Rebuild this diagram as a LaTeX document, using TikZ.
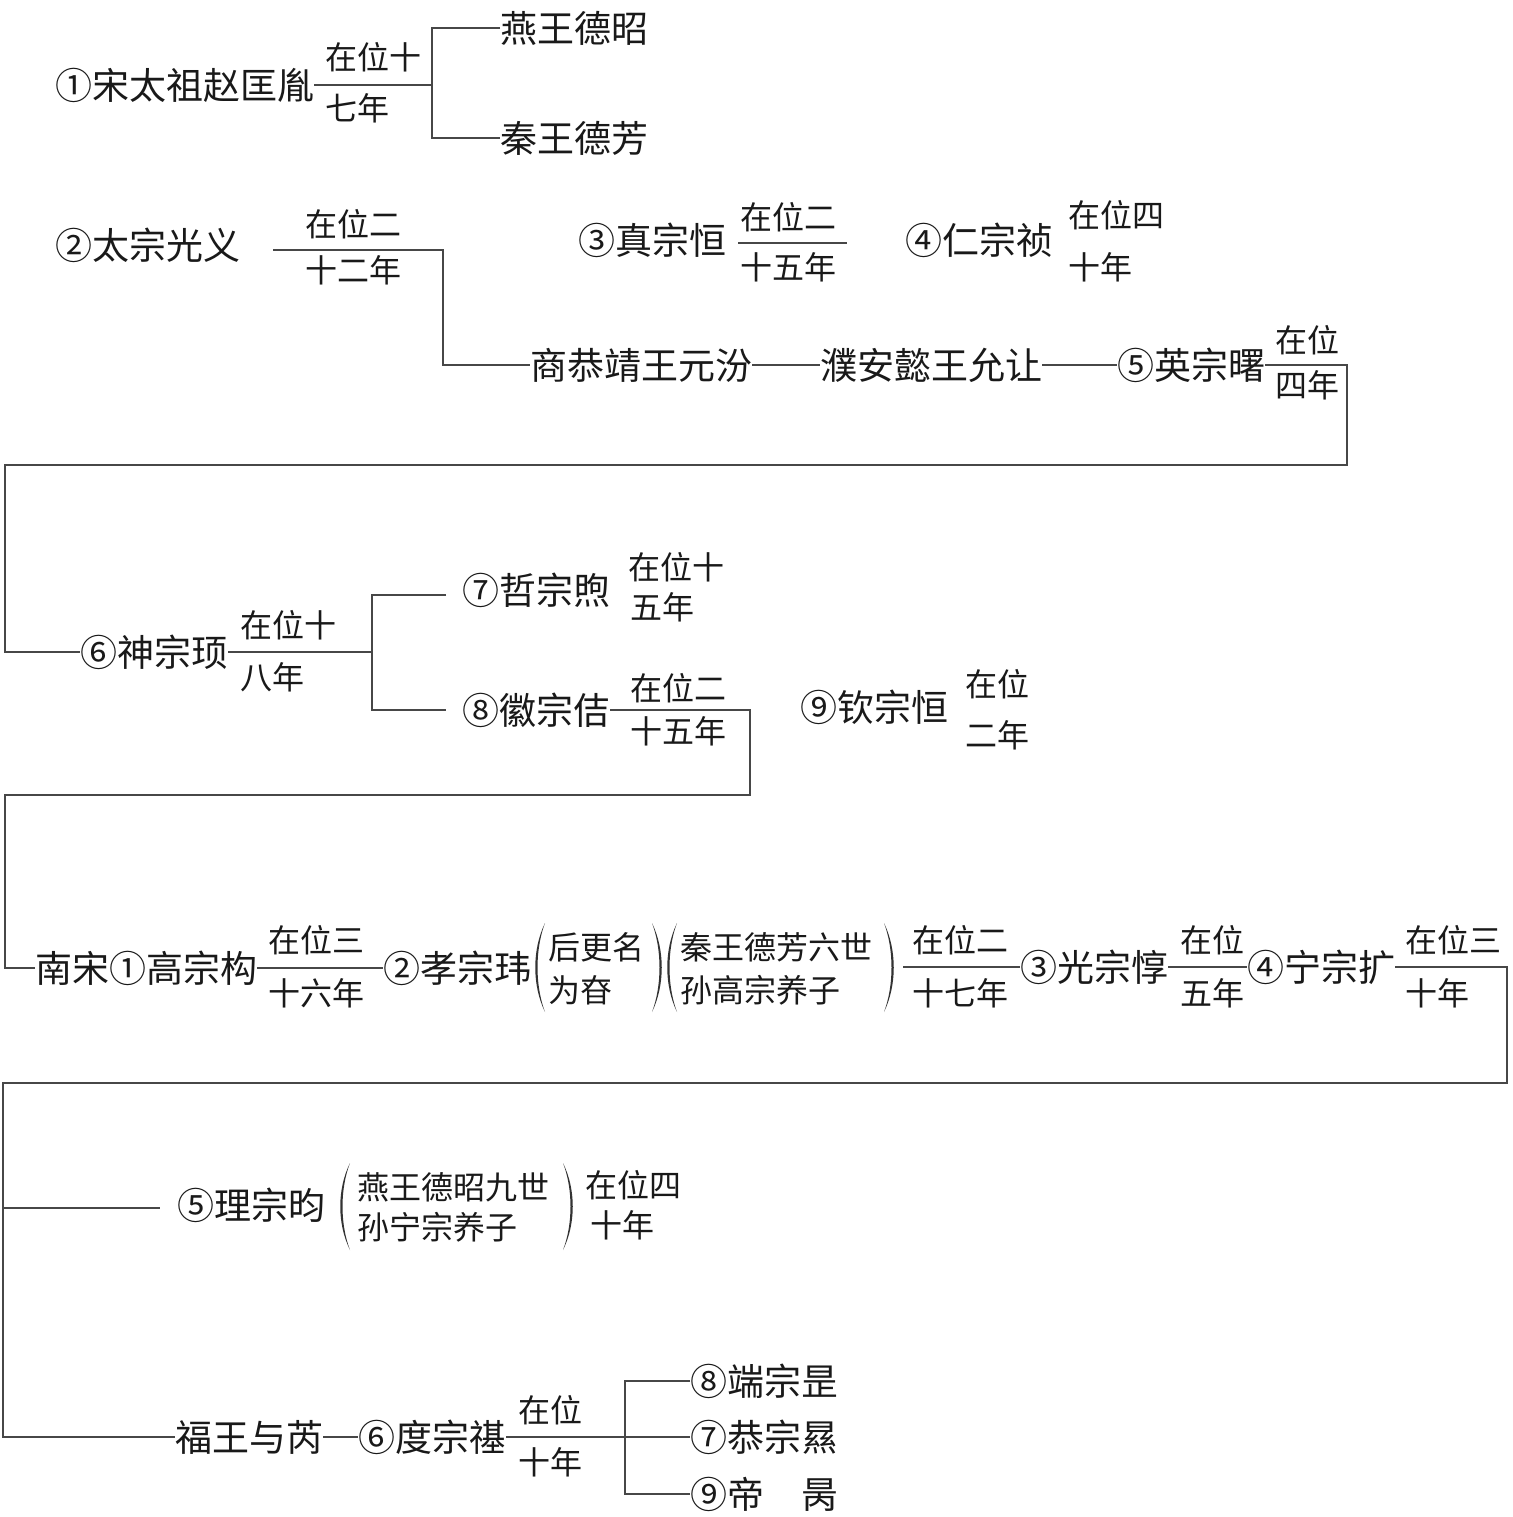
\documentclass[tikz,border=0pt]{standalone}
\usepackage{fontspec}
\setmainfont{Noto Sans CJK SC}
\newcommand\myparL[3]{\fill[pr] (#1,#2) .. controls ({#1-13},{#2+0.3*(#3-#2)}) and ({#1-13},{#2+0.7*(#3-#2)}) .. (#1,#3) .. controls ({#1-10},{#2+0.7*(#3-#2)}) and ({#1-10},{#2+0.3*(#3-#2)}) .. (#1,#2) -- cycle;}
\newcommand\myparR[3]{\fill[pr] (#1,#2) .. controls ({#1+13},{#2+0.3*(#3-#2)}) and ({#1+13},{#2+0.7*(#3-#2)}) .. (#1,#3) .. controls ({#1+10},{#2+0.7*(#3-#2)}) and ({#1+10},{#2+0.3*(#3-#2)}) .. (#1,#2) -- cycle;}
\tikzset{
 nm/.style={anchor=west, inner sep=0pt, font=\fontsize{37}{40}\selectfont, text=black!90},
 nt/.style={anchor=west, inner sep=0pt, font=\fontsize{32}{36}\selectfont, text=black!90},
 ln/.style={draw=black!72, line width=1.8pt},
 pr/.style={fill=black!80},
}
\begin{document}
\begin{tikzpicture}[x=1pt,y=-1pt]
\useasboundingbox (0,0) rectangle (1512,1517);
% ---- row A
\node[nm] (a1) at (55,85) {①宋太祖赵匡胤};
\coordinate (ab) at (432,85);
\node[nm] (a2) at (500,28) {燕王德昭};
\node[nm] (a3) at (500,138) {秦王德芳};
\node[nt] (a1t) at (325,57) {在位十};
\node[nt] (a1b) at (325,108) {七年};
\draw[ln] (a1.east) -- (ab);
\draw[ln] (a2.west) -| (ab) |- (a3.west);
% ---- row B
\node[nm] (b1) at (55,245) {②太宗光义};
\coordinate (bl) at (273,250);
\coordinate (bc) at (443,250);
\node[nt] (b1t) at (305,224) {在位二};
\node[nt] (b1b) at (305,270) {十二年};
\node[nm] (b2) at (530,365) {商恭靖王元汾};
\node[nm] (b3) at (820,365) {濮安懿王允让};
\node[nm] (b4) at (1117,365) {⑤英宗曙};
\coordinate (br) at (1347,365);
\coordinate (bt) at (5,465);
\node[nt] (b4t) at (1275,340) {在位};
\node[nt] (b4b) at (1275,385) {四年};
\node[nm] (b5) at (578,240) {③真宗恒};
\coordinate (b5l) at (738,243);
\coordinate (b5r) at (847,243);
\node[nt] (b5t) at (740,217) {在位二};
\node[nt] (b5b) at (740,267) {十五年};
\node[nm] (b6) at (905,240) {④仁宗祯};
\node[nt] (b6t) at (1068,215) {在位四};
\node[nt] (b6b) at (1068,267) {十年};
% ---- row C
\node[nm] (c1) at (80,652) {⑥神宗顼};
\coordinate (cb) at (372,652);
\node[nt] (c1t) at (240,625) {在位十};
\node[nt] (c1b) at (240,677) {八年};
\node[nm] (c2) at (462,590) {⑦哲宗煦};
\coordinate (c2l) at (446,595);
\node[nt] (c2t) at (628,567) {在位十};
\node[nt] (c2b) at (630,607) {五年};
\node[nm] (c3) at (462,710) {⑧徽宗佶};
\coordinate (c3l) at (446,710);
\coordinate (c3r) at (750,710);
\node[nt] (c3t) at (630,688) {在位二};
\node[nt] (c3b) at (630,731) {十五年};
\node[nm] (c4) at (800,707) {⑨钦宗恒};
\node[nt] (c4t) at (965,684) {在位};
\node[nt] (c4b) at (965,735) {二年};
\coordinate (ct) at (5,795);
% ---- row D
\node[nm] (d1) at (35,968) {南宋①高宗构};
\node[nt] (d1t) at (268,940) {在位三};
\node[nt] (d1b) at (268,993) {十六年};
\node[nm] (d2) at (383,968) {②孝宗玮};
\node[nt] (p1a) at (548,947) {后更名};
\node[nt] (p1b) at (548,990) {为昚};
\node[nt] (p2a) at (680,947) {秦王德芳六世};
\node[nt] (p2b) at (680,990) {孙高宗养子};
\coordinate (dl) at (903,967);
\node[nm] (d3) at (1020,967) {③光宗惇};
\node[nt] (d3t) at (912,940) {在位二};
\node[nt] (d3b) at (912,993) {十七年};
\node[nm] (d4) at (1247,967) {④宁宗扩};
\node[nt] (d4t) at (1180,940) {在位};
\node[nt] (d4b) at (1180,993) {五年};
\coordinate (dr) at (1507,967);
\node[nt] (d5t) at (1405,940) {在位三};
\node[nt] (d5b) at (1405,993) {十年};
\coordinate (dt) at (3,1083);
% ---- row E
\coordinate (ej) at (3,1208);
\coordinate (ee) at (160,1208);
\node[nm] (e1) at (177,1205) {⑤理宗昀};
\node[nt] (p3a) at (357,1187) {燕王德昭九世};
\node[nt] (p3b) at (357,1227) {孙宁宗养子};
\node[nt] (e1t) at (585,1185) {在位四};
\node[nt] (e1b) at (590,1225) {十年};
% ---- row F
\node[nm] (f1) at (175,1437) {福王与芮};
\node[nm] (f2) at (358,1437) {⑥度宗禥};
\coordinate (fb) at (625,1437);
\node[nt] (f2t) at (518,1410) {在位};
\node[nt] (f2b) at (518,1462) {十年};
\node[nm] (g1) at (690,1381) {⑧端宗昰};
\node[nm] (g2) at (690,1437) {⑦恭宗㬎};
\node[nm] (g3) at (690,1494) {⑨帝　昺};
% ---- connectors
\draw[ln] (bl) -- (bc) |- (b2.west);
\draw[ln] (b2.east) -- (b3.west);
\draw[ln] (b3.east) -- (b4.west);
\draw[ln] (b4.east) -- (br) |- (bt) |- (c1.west);
\draw[ln] (b5l) -- (b5r);
\draw[ln] (c1.east) -- (cb);
\draw[ln] (c2l) -| (cb) |- (c3l);
\draw[ln] (c3.east) -- (c3r) |- (ct) |- (d1.west);
\draw[ln] (d1.east) -- (d2.west);
\draw[ln] (dl) -- (d3.west);
\draw[ln] (d3.east) -- (d4.west);
\draw[ln] (d4.east) -- (dr) |- (dt) |- (f1.west);
\draw[ln] (ej) -- (ee);
\draw[ln] (f1.east) -- (f2.west);
\draw[ln] (f2.east) -- (fb);
\draw[ln] (g1.west) -| (fb) |- (g3.west);
\draw[ln] (fb) -- (g2.west);
% ---- parentheses
\myparL{545}{923}{1012}
\myparR{652}{923}{1012}
\myparL{677}{923}{1012}
\myparR{884}{923}{1012}
\myparL{350}{1163}{1250}
\myparR{563}{1163}{1250}
\end{tikzpicture}
\end{document}
